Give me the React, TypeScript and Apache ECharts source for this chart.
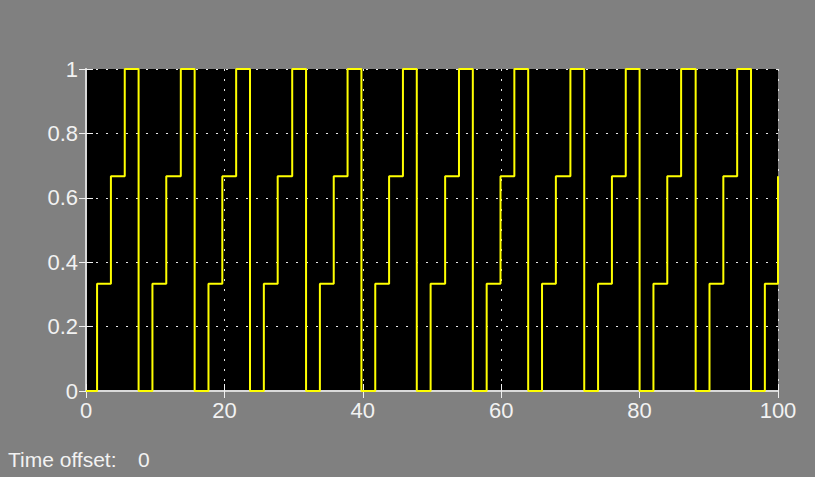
import React, { useEffect, useRef } from "react";
import * as echarts from "echarts";

// Transition times (s) of the zero-order-held signal, read from the scope
const stepTimes = [
  0,
  1.6, 3.6, 5.6, 7.6,
  9.6, 11.6, 13.7, 15.7,
  17.7, 19.7, 21.7, 23.7,
  25.7, 27.7, 29.8, 31.8,
  33.8, 35.8, 37.8, 39.8,
  41.8, 43.8, 45.8, 47.8,
  49.8, 51.9, 53.9, 55.9,
  57.9, 59.9, 61.9, 63.9,
  65.9, 67.9, 70.0, 72.0,
  74.0, 76.0, 78.0, 80.0,
  82.0, 84.0, 86.0, 88.1,
  90.1, 92.1, 94.1, 96.1,
  98.1, 100,
];

// Level held from each transition time on
const stepValues = [
  0,
  0.333, 0.667, 1, 0,
  0.333, 0.667, 1, 0,
  0.333, 0.667, 1, 0,
  0.333, 0.667, 1, 0,
  0.333, 0.667, 1, 0,
  0.333, 0.667, 1, 0,
  0.333, 0.667, 1, 0,
  0.333, 0.667, 1, 0,
  0.333, 0.667, 1, 0,
  0.333, 0.667, 1, 0,
  0.333, 0.667, 1, 0,
  0.333, 0.667, 1, 0,
  0.333, 0.667,
];

const xMin = 0;
const xMax = 100;
const xInterval = 20;
const yMin = 0;
const yMax = 1;
const yInterval = 0.2;

const footerLabel = "Time offset:";
const footerValue = "0";

export default function App() {
  const ref = useRef<HTMLDivElement>(null);

  useEffect(() => {
    if (!ref.current) return;
    const chart = echarts.init(ref.current, null, { renderer: "svg" });
    const font = "'Liberation Sans', Arial, sans-serif";
    const fg = "#f2f2f2";
    const axisLine = { show: true, lineStyle: { color: "#d9d9d9", width: 2 } };
    const tick = { show: true, inside: true, length: 7, lineStyle: { color: "#f0f0f0", width: 1 } };
    const split = { show: true, lineStyle: { color: "#e6e6e6", width: 1, type: [2, 8] as any } };

    const data = stepTimes.map((t, i) => [t, stepValues[i]]);

    chart.setOption({
      animation: false,
      backgroundColor: "#808080",
      grid: {
        left: 86,
        right: 37,
        top: 69,
        bottom: 86,
        show: true,
        backgroundColor: "#000000",
        borderWidth: 0,
        containLabel: false,
      },
      xAxis: [
        {
          type: "value",
          min: xMin,
          max: xMax,
          interval: xInterval,
          position: "bottom",
          axisLine,
          axisTick: tick,
          splitLine: split,
          axisLabel: { color: fg, fontSize: 22, fontFamily: font, margin: 8 },
        },
        {
          type: "value",
          min: xMin,
          max: xMax,
          interval: xInterval,
          position: "top",
          axisLine,
          axisTick: tick,
          splitLine: { show: false },
          axisLabel: { show: false },
        },
      ],
      yAxis: [
        {
          type: "value",
          min: yMin,
          max: yMax,
          interval: yInterval,
          position: "left",
          axisLine,
          axisTick: tick,
          splitLine: split,
          axisLabel: { color: fg, fontSize: 22, fontFamily: font, margin: 8 },
        },
        {
          type: "value",
          min: yMin,
          max: yMax,
          interval: yInterval,
          position: "right",
          axisLine,
          axisTick: tick,
          splitLine: { show: false },
          axisLabel: { show: false },
        },
      ],
      series: [
        {
          type: "line",
          xAxisIndex: 0,
          yAxisIndex: 0,
          step: "end",
          data,
          showSymbol: false,
          symbol: "none",
          clip: false,
          lineStyle: { color: "#ffff00", width: 2 },
          z: 3,
        },
      ],
      graphic: [
        {
          type: "text",
          left: 8,
          top: 449,
          style: {
            text: footerLabel,
            fill: fg,
            fontSize: 21,
            fontFamily: font,
          },
        },
        {
          type: "text",
          left: 138,
          top: 449,
          style: {
            text: footerValue,
            fill: fg,
            fontSize: 21,
            fontFamily: font,
          },
        },
      ],
    });
    return () => chart.dispose();
  }, []);

  return (
    <div
      ref={ref}
      style={{ position: "fixed", left: 0, top: 0, width: 815, height: 477 }}
    />
  );
}
